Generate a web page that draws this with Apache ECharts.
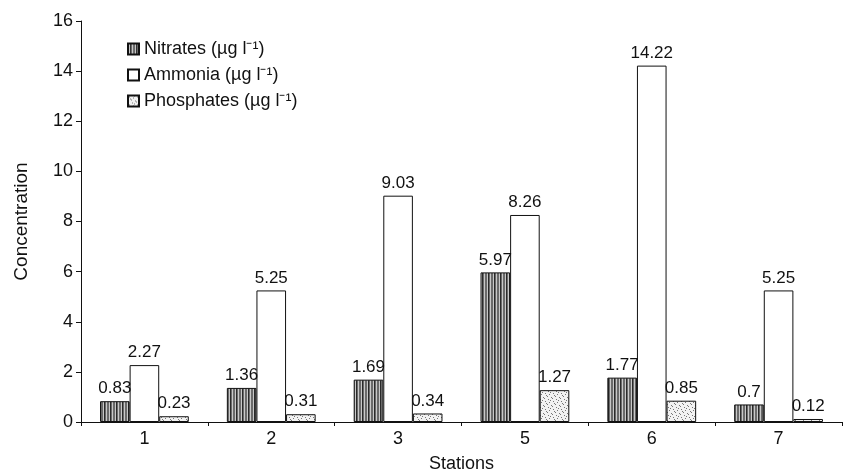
<!DOCTYPE html>
<html>
<head>
<meta charset="utf-8">
<script src="https://cdn.jsdelivr.net/npm/echarts@6/dist/echarts.min.js"></script>
<style>
  html, body { margin: 0; padding: 0; background: #fff; }
  #chart { width: 851px; height: 475px; }
</style>
</head>
<body>
<div id="chart"></div>
<script>
// Station categories and measured concentrations
const stations = ['1', '2', '3', '5', '6', '7'];
const nitrates = [0.83, 1.36, 1.69, 5.97, 1.77, 0.7];
const ammonia = [2.27, 5.25, 9.03, 8.26, 14.22, 5.25];
const phosphates = [0.23, 0.31, 0.34, 1.27, 0.85, 0.12];
const seriesNames = ['Nitrates (µg l\u207B\u00B9)', 'Ammonia (µg l\u207B\u00B9)', 'Phosphates (µg l\u207B\u00B9)'];

// Vertical-stripe fill for nitrates
function stripePattern() {
  const c = document.createElement('canvas');
  c.width = 6; c.height = 6;
  const g = c.getContext('2d');
  g.fillStyle = '#6a6a6a';
  g.fillRect(0, 0, 6, 6);
  g.fillStyle = '#c8c8c8';
  g.fillRect(1, 0, 1, 6);
  g.fillRect(4, 0, 1, 6);
  g.fillStyle = '#2a2a2a';
  g.fillRect(2, 0, 1, 6);
  return c;
}

// Light stipple fill for phosphates
function stipplePattern() {
  const c = document.createElement('canvas');
  c.width = 8; c.height = 8;
  const g = c.getContext('2d');
  g.fillStyle = '#f2f2f2';
  g.fillRect(0, 0, 8, 8);
  g.fillStyle = '#777';
  const dots = [[1,1],[5,2],[3,4],[7,5],[0,6],[4,7],[6,0],[2,3]];
  dots.forEach(d => g.fillRect(d[0], d[1], 1, 1));
  return c;
}

const font = 'Liberation Sans, Arial, Helvetica, sans-serif';
const labelStyle = { show: true, position: 'top', color: '#111', fontSize: 17, fontFamily: font, distance: 4 };

const chart = echarts.init(document.getElementById('chart'));
chart.setOption({
  animation: false,
  backgroundColor: '#fff',
  textStyle: { fontFamily: font },
  grid: { left: 81, right: 9, top: 21, bottom: 53, outerBoundsMode: 'none', containLabel: false },
  legend: {
    orient: 'vertical',
    left: 122,
    top: 35,
    icon: 'rect',
    itemWidth: 11,
    itemHeight: 11,
    itemGap: 8,
    textStyle: { fontSize: 18, color: '#111', fontFamily: font },
    data: seriesNames
  },
  xAxis: {
    type: 'category',
    data: stations,
    name: 'Stations',
    nameLocation: 'middle',
    nameGap: 33,
    nameTextStyle: { fontSize: 18, color: '#111', fontFamily: font },
    axisLine: { lineStyle: { color: '#111', width: 1 } },
    axisTick: { show: true, length: 4, lineStyle: { color: '#111' } },
    axisLabel: { fontSize: 18, color: '#111', margin: 8, fontFamily: font }
  },
  yAxis: {
    type: 'value',
    min: 0,
    max: 16,
    interval: 2,
    name: 'Concentration',
    nameLocation: 'middle',
    nameGap: 50,
    nameTextStyle: { fontSize: 19, color: '#111', fontFamily: font },
    axisLine: { show: true, lineStyle: { color: '#111', width: 1 } },
    axisTick: { show: true, length: 5, lineStyle: { color: '#111' } },
    axisLabel: { fontSize: 18, color: '#111', margin: 8, fontFamily: font },
    splitLine: { show: false }
  },
  series: [
    {
      name: seriesNames[0],
      type: 'bar',
      data: nitrates,
      barGap: '0%',
      barCategoryGap: '30%',
      itemStyle: { color: { image: stripePattern(), repeat: 'repeat' }, borderColor: '#111', borderWidth: 1 },
      label: labelStyle
    },
    {
      name: seriesNames[1],
      type: 'bar',
      data: ammonia,
      itemStyle: { color: '#fff', borderColor: '#111', borderWidth: 1 },
      label: labelStyle
    },
    {
      name: seriesNames[2],
      type: 'bar',
      data: phosphates,
      itemStyle: { color: { image: stipplePattern(), repeat: 'repeat' }, borderColor: '#111', borderWidth: 1 },
      label: labelStyle
    }
  ]
});
</script>
</body>
</html>
